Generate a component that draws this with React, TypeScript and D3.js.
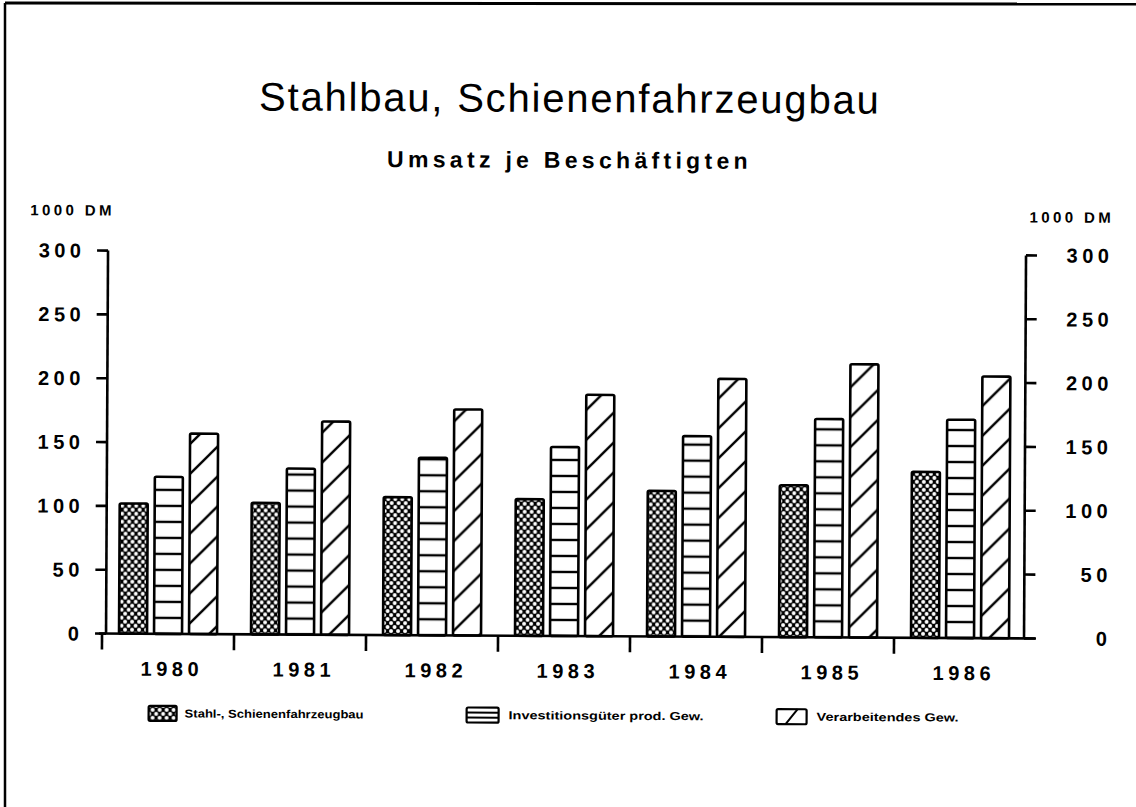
import React from 'react';
import * as d3 from 'd3';

const years = ['1980', '1981', '1982', '1983', '1984', '1985', '1986'];
const seriesNames = ['Stahl-, Schienenfahrzeugbau', 'Investitionsgüter prod. Gew.', 'Verarbeitendes Gew.'];
const stahl = [102, 103, 108, 107, 114, 119, 130];
const invest = [123, 130, 139, 148, 157, 171, 171];
const verarb = [157, 167, 177, 189, 202, 214, 205];
const yTicks = [0, 50, 100, 150, 200, 250, 300];
const unitLabel = '1000 DM';
const title = 'Stahlbau, Schienenfahrzeugbau';
const subtitle = 'Umsatz je Beschäftigten';

const W = 1136;
const H = 807;
const FONT = 'Liberation Sans, Arial, Helvetica, sans-serif';

export default function App() {
  const x = d3.scaleBand<string>().domain(years).range([103, 1027]).paddingInner(0).paddingOuter(0);
  const inner = d3.scaleBand<number>().domain([0, 1, 2]).range([17, 115]).paddingInner(0.2).paddingOuter(0);
  const y = d3.scaleLinear().domain([0, 300]).range([636, 253]);
  const series = [stahl, invest, verarb];
  const fills = ['url(#pCross)', 'url(#pHoriz)', 'url(#pDiag)'];
  const base = y(0);
  const lw = 2.6;

  const legendItems = [
    { box: 150, bw: 28, text: 186, tl: 179 },
    { box: 468, bw: 32, text: 510, tl: 195 },
    { box: 778, bw: 30, text: 818, tl: 142 },
  ];
  const legY = 708;
  const legH = 15;

  return (
    <svg width={W} height={H} style={{ position: 'absolute', left: 0, top: 0, background: '#fff' }}>
      <defs>
        <pattern id="pCross" patternUnits="userSpaceOnUse" width={7} height={8}>
          <rect width={7} height={8} fill="#000" />
          <circle cx={0} cy={0} r={2} fill="#fff" />
          <circle cx={7} cy={0} r={2} fill="#fff" />
          <circle cx={0} cy={8} r={2} fill="#fff" />
          <circle cx={7} cy={8} r={2} fill="#fff" />
          <circle cx={3.5} cy={4} r={2} fill="#fff" />
        </pattern>
        <pattern id="pHoriz" patternUnits="userSpaceOnUse" width={10} height={16} y={base % 16}>
          <rect width={10} height={16} fill="#fff" />
          <rect y={-1.2} width={10} height={2.4} fill="#000" />
          <rect y={14.8} width={10} height={2.4} fill="#000" />
        </pattern>
        <pattern id="pDiag" patternUnits="userSpaceOnUse" width={30} height={30} y={base % 30}>
          <rect width={30} height={30} fill="#fff" />
          <path d="M-3,33 L33,-3 M-8,8 L8,-8 M22,38 L38,22" stroke="#000" strokeWidth={2.4} />
        </pattern>
      </defs>

      {/* scan frame */}
      <line x1={5} y1={3} x2={W} y2={4} stroke="#000" strokeWidth={3} />
      <line x1={5} y1={3} x2={5} y2={H} stroke="#000" strokeWidth={2.5} />

      <g transform="rotate(0.3 568 450)">
        <text x={568} y={112} textAnchor="middle" fontFamily={FONT} fontSize={40} style={{ letterSpacing: '1.8px' }}>
          {title}
        </text>
        <text x={568} y={168} textAnchor="middle" fontFamily={FONT} fontSize={23} fontWeight="bold" style={{ letterSpacing: '4.3px' }}>
          {subtitle}
        </text>

        <text x={29} y={218} fontFamily={FONT} fontSize={15} fontWeight="bold" style={{ letterSpacing: '3.4px' }}>
          {unitLabel}
        </text>
        <text x={1113} y={220} textAnchor="end" fontFamily={FONT} fontSize={15} fontWeight="bold" style={{ letterSpacing: '3.4px' }}>
          {unitLabel}
        </text>

        {/* bars */}
        {years.map((yr, i) => (
          <g key={yr}>
            {series.map((s, j) => (
              <rect
                key={j}
                x={(x(yr) as number) + (inner(j) as number)}
                y={y(s[i])}
                width={inner.bandwidth()}
                height={base - y(s[i])}
                fill={fills[j]}
                stroke="#000"
                strokeWidth={lw}
                rx={1.5}
              />
            ))}
          </g>
        ))}

        {/* left axis */}
        <line x1={107} y1={y(300)} x2={107} y2={base} stroke="#000" strokeWidth={lw} />
        {yTicks.map((t) => (
          <g key={'l' + t}>
            <line x1={96} x2={107} y1={y(t)} y2={y(t)} stroke="#000" strokeWidth={lw} />
            <text x={84.5} y={y(t) + 7} textAnchor="end" fontFamily={FONT} fontSize={20} fontWeight="bold" style={{ letterSpacing: '4.5px' }}>
              {String(t)}
            </text>
          </g>
        ))}

        {/* right axis */}
        <line x1={1025} y1={y(300)} x2={1025} y2={base} stroke="#000" strokeWidth={lw} />
        {yTicks.map((t) => (
          <g key={'r' + t}>
            <line x1={1025} x2={1036} y1={y(t)} y2={y(t)} stroke="#000" strokeWidth={lw} />
            <text x={1112.5} y={y(t) + 7} textAnchor="end" fontFamily={FONT} fontSize={20} fontWeight="bold" style={{ letterSpacing: '4.5px' }}>
              {String(t)}
            </text>
          </g>
        ))}

        {/* baseline and category ticks */}
        <line x1={100} x2={1037} y1={base} y2={base} stroke="#000" strokeWidth={lw} />
        {years.map((yr) => (
          <line key={'t' + yr} x1={x(yr) as number} x2={x(yr) as number} y1={base} y2={base + 16} stroke="#000" strokeWidth={lw} />
        ))}
        {years.map((yr) => (
          <text
            key={'y' + yr}
            x={(x(yr) as number) + x.bandwidth() / 2 + 4}
            y={base + 42}
            textAnchor="middle"
            fontFamily={FONT}
            fontSize={20}
            fontWeight="bold"
            style={{ letterSpacing: '4.5px' }}
          >
            {yr}
          </text>
        ))}

        {/* legend */}
        {legendItems.map((it, j) => (
          <g key={'leg' + j}>
            <rect x={it.box} y={legY} width={it.bw} height={legH} fill={j === 0 ? 'url(#pCross)' : '#fff'} stroke="#000" strokeWidth={2.2} rx={1.5} />
            {j === 1 && (
              <>
                <line x1={it.box} x2={it.box + it.bw} y1={legY + legH / 3} y2={legY + legH / 3} stroke="#000" strokeWidth={2} />
                <line x1={it.box} x2={it.box + it.bw} y1={legY + (2 * legH) / 3} y2={legY + (2 * legH) / 3} stroke="#000" strokeWidth={2} />
              </>
            )}
            {j === 2 && (
              <line x1={it.box + it.bw * 0.3} x2={it.box + it.bw * 0.7} y1={legY + legH} y2={legY} stroke="#000" strokeWidth={2} />
            )}
            <text
              x={it.text}
              y={legY + legH / 2 + 4}
              fontFamily={FONT}
              fontSize={11.5}
              fontWeight="bold"
              textLength={it.tl}
              lengthAdjust="spacingAndGlyphs"
            >
              {seriesNames[j]}
            </text>
          </g>
        ))}
      </g>
    </svg>
  );
}
